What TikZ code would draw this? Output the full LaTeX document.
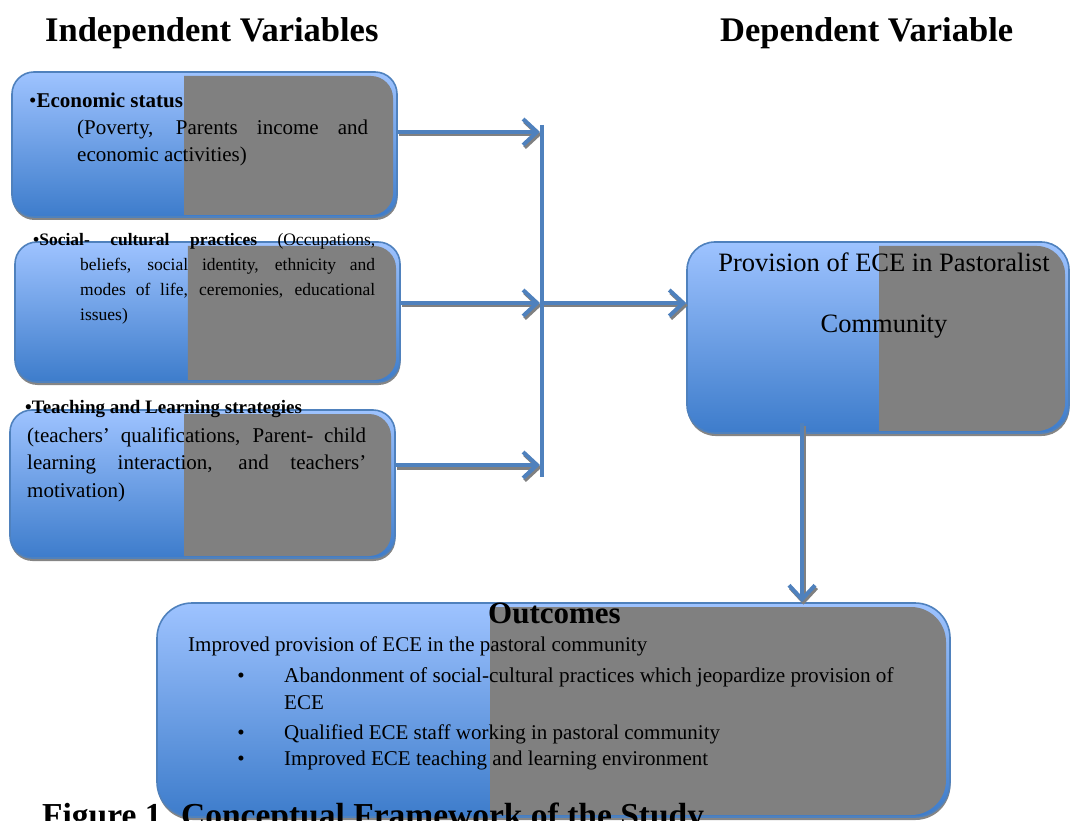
\documentclass[tikz,border=0pt]{standalone}
\usepackage{fontspec}
\setmainfont{Liberation Serif}
\usetikzlibrary{arrows.meta,shadows,calc}
\definecolor{blueline}{HTML}{4F81BD}
\definecolor{gradtop}{HTML}{9EC3FF}
\definecolor{gradmid}{HTML}{80AAEF}
\definecolor{gradbot}{HTML}{3D7CCB}
\definecolor{boxgray}{HTML}{808080}
\definecolor{shadowgray}{HTML}{858585}
\newcommand{\stretchsp}{\spaceskip=0.25em plus 3em minus 0.05em\relax}
\tikzset{
  splitfrac/.store in=\mysplit, splitfrac=0.45,
  varbox/.style={draw=blueline, line width=1.6pt, fill=white, inner sep=0pt,
    drop shadow={shadow xshift=0.5pt, shadow yshift=-3pt, fill=shadowgray, opacity=1},
    path picture={
      \shade[sharp corners, top color=gradtop, middle color=gradmid, bottom color=gradbot]
        (path picture bounding box.south west) rectangle (path picture bounding box.north east);
      \begin{scope}
        \clip[sharp corners] ($(path picture bounding box.south west)!\mysplit!(path picture bounding box.south east)$)
          rectangle (path picture bounding box.north east);
        \fill[boxgray] ([xshift=-4pt,yshift=-4pt]path picture bounding box.north east)
          rectangle ([yshift=2pt]path picture bounding box.south west);
      \end{scope}
    }},
  txt/.style={anchor=base west, inner sep=0pt, text=black},
  ctxt/.style={anchor=base, inner sep=0pt, text=black},
  conn/.style={draw=blueline, line width=4pt, -{Straight Barb[length=14pt, width=26pt]}},
  connshadow/.style={draw=boxgray, line width=4pt, -{Straight Barb[length=14pt, width=26pt]}},
  barline/.style={draw=blueline, line width=4pt},
}
\begin{document}
\begin{tikzpicture}[x=1pt, y=-1pt]
\useasboundingbox (0,0) rectangle (1072,821);

% headers
\node[txt] (hind) at (45,41.5) {\fontsize{34.5}{40}\selectfont\bfseries Independent Variables};
\node[txt] (hdep) at (720,41.5) {\fontsize{34.5}{40}\selectfont\bfseries Dependent Variable};

% boxes
\node[varbox, rounded corners=22pt, splitfrac=0.447, minimum width=385pt, minimum height=145pt] (eco) at (204.5,144.5) {};
\node[varbox, rounded corners=22pt, splitfrac=0.449, minimum width=385pt, minimum height=140pt] (soc) at (207.5,312) {};
\node[varbox, rounded corners=22pt, splitfrac=0.452, minimum width=385pt, minimum height=148pt] (teach) at (202.5,484) {};
\node[varbox, rounded corners=28pt, splitfrac=0.503, minimum width=382pt, minimum height=191pt] (dep) at (878,337.5) {};
\node[varbox, rounded corners=35pt, splitfrac=0.42, minimum width=793pt, minimum height=214pt] (out) at (553.5,710) {};

% box texts
\node[txt] (ecotext) at (29,108) {\parbox[t]{339pt}{\fontsize{21}{27}\selectfont\stretchsp
  •\textbf{Economic status}\par
  \leftskip=48pt (Poverty, Parents income and\linebreak economic activities)}};

\node[txt] (soctext) at (33,246) {\parbox[t]{342pt}{\fontsize{17.5}{24.7}\selectfont\stretchsp
  \hangindent=47pt\hangafter=1
  \textbf{•Social- cultural practices} (Occupations,\linebreak beliefs, social identity, ethnicity and\linebreak modes of life, ceremonies, educational\linebreak issues)}};

\node[txt] (teachtitle) at (25,413) {\fontsize{19}{22}\selectfont\bfseries •Teaching and Learning strategies};
\node[txt] (teachtext) at (27,442) {\parbox[t]{339pt}{\fontsize{21}{27.5}\selectfont\stretchsp
  (teachers’ qualifications, Parent- child\linebreak learning interaction, and teachers’\linebreak motivation)}};

\node[ctxt] (deptext1) at (884,272) {\fontsize{26.5}{30}\selectfont Provision of ECE in Pastoralist};
\node[ctxt] (deptext2) at (884,333) {\fontsize{26.5}{30}\selectfont Community};

\node[ctxt] (outtitle) at (554.5,623) {\fontsize{31}{35}\selectfont\bfseries Outcomes};
\node[txt] (o0) at (188,651) {\fontsize{21}{25}\selectfont Improved provision of ECE in the pastoral community};
\node[ctxt] (b1) at (241,682) {\fontsize{21}{25}\selectfont •};
\node[txt] (o1) at (284,682) {\fontsize{21.2}{25}\selectfont Abandonment of social-cultural practices which jeopardize provision of};
\node[txt] (o1b) at (284,709) {\fontsize{21}{25}\selectfont ECE};
\node[ctxt] (b2) at (241,739) {\fontsize{21}{25}\selectfont •};
\node[txt] (o2) at (284,739) {\fontsize{21}{25}\selectfont Qualified ECE staff working in pastoral community};
\node[ctxt] (b3) at (241,765) {\fontsize{21}{25}\selectfont •};
\node[txt] (o3) at (284,765) {\fontsize{21}{25}\selectfont Improved ECE teaching and learning environment};

% connector coordinates
\coordinate (bartop) at (542,125);
\coordinate (barbot) at (542,477);
\coordinate (j1) at (540,132);
\coordinate (j2) at (540,303);
\coordinate (j3) at (540,465);
\coordinate (jm) at (542,303);
\coordinate (dtop) at (802,423);

% shadows of connectors
\begin{scope}[transform canvas={shift={(1.5,2.5)}}]
  \draw[connshadow] (eco.east |- j1) -- (j1);
  \draw[connshadow] (soc.east |- j2) -- (j2);
  \draw[connshadow] (teach.east |- j3) -- (j3);
  \draw[connshadow] (jm) -- (dep.west |- jm);
  \draw[connshadow] (dtop) -- (out.north -| dtop);
\end{scope}
% connectors
\draw[barline] (bartop) -- (barbot);
\draw[conn] (eco.east |- j1) -- (j1);
\draw[conn] (soc.east |- j2) -- (j2);
\draw[conn] (teach.east |- j3) -- (j3);
\draw[conn] (jm) -- (dep.west |- jm);
\draw[conn] (dtop) -- (out.north -| dtop);

% caption (cut by the page edge, as in the reference)
\node[txt] (cap) at (42,826) {\fontsize{33.5}{40}\selectfont\bfseries Figure 1. Conceptual Framework of the Study};
\end{tikzpicture}
\end{document}
